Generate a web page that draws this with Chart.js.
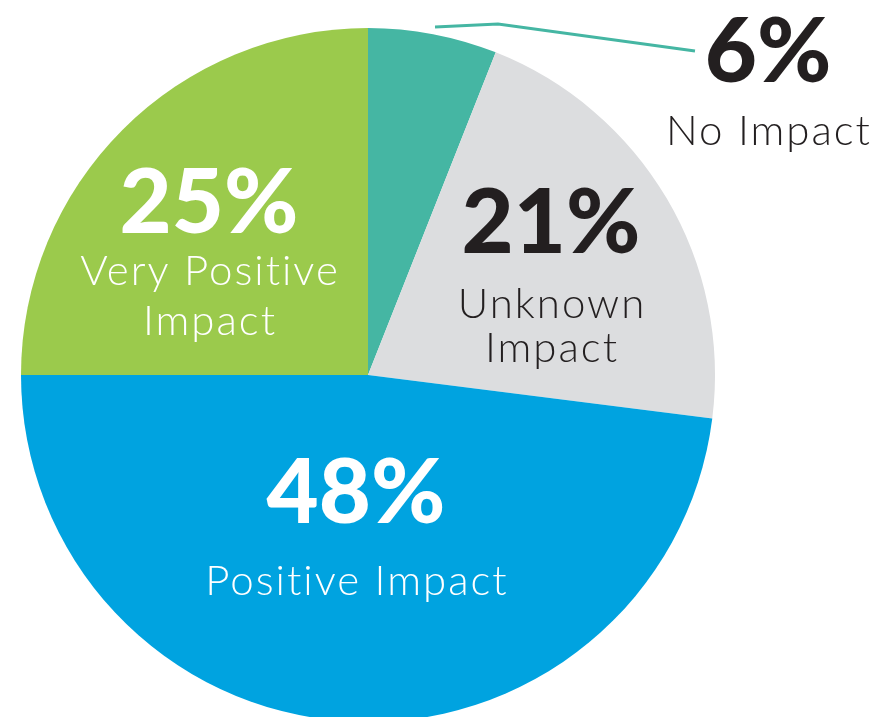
<!DOCTYPE html>
<html>
<head>
<meta charset="utf-8">
<script src="https://cdn.jsdelivr.net/npm/chart.js@4"></script>
<style>
  html, body { margin: 0; padding: 0; background: #fff; overflow: hidden; }
  #wrap { position: relative; width: 879px; height: 750px; }
</style>
</head>
<body>
<div id="wrap"><canvas id="pie-chart" width="879" height="750"></canvas></div>
<script>
const categories = ["No Impact", "Unknown Impact", "Positive Impact", "Very Positive Impact"];
const shares = [6, 21, 48, 25];
const sliceColors = ["#45b6a3", "#dcdddf", "#00a3e0", "#9bca4c"];

// label text for each slice: big number + lines under it
const labelLines = [["No Impact"], ["Unknown", "Impact"], ["Positive Impact"], ["Very Positive", "Impact"]];

const labelPlugin = {
  id: "sliceLabels",
  afterDraw(chart) {
    const ctx = chart.ctx;
    const spots = [
      { x: 768, y: 82, lines: [145], color: "#231f20" },
      { x: 551, y: 253, lines: [318, 362], color: "#231f20" },
      { x: 356, y: 523, lines: [595], color: "#ffffff" },
      { x: 209, y: 233, lines: [285, 335], color: "#ffffff" },
    ];
    ctx.save();
    // leader line for the small slice
    ctx.strokeStyle = sliceColors[0];
    ctx.lineWidth = 3;
    ctx.beginPath();
    ctx.moveTo(435, 27);
    ctx.lineTo(498, 24);
    ctx.lineTo(695, 51);
    ctx.stroke();

    ctx.textAlign = "center";
    ctx.textBaseline = "alphabetic";
    spots.forEach((s, i) => {
      ctx.fillStyle = s.color;
      ctx.letterSpacing = "0px";
      ctx.font = "900 90px Lato";
      ctx.fillText(shares[i] + "%", s.x, s.y);
      ctx.letterSpacing = "2px";
      ctx.font = "300 42px Lato";
      labelLines[i].forEach((t, j) => ctx.fillText(t, s.x + 1, s.lines[j]));
    });
    ctx.restore();
  },
};

const ctx_pie = document.getElementById("pie-chart").getContext("2d");
const myChart_pie = new Chart(ctx_pie, {
  type: "pie",
  data: {
    labels: categories,
    datasets: [{
      data: shares,
      backgroundColor: sliceColors,
      borderWidth: 0,
    }],
  },
  options: {
    responsive: false,
    animation: false,
    layout: { padding: { left: 21, top: 28, right: 164, bottom: 28 } },
    plugins: {
      legend: { display: false },
      tooltip: { enabled: false },
    },
  },
  plugins: [labelPlugin],
});
</script>
</body>
</html>
